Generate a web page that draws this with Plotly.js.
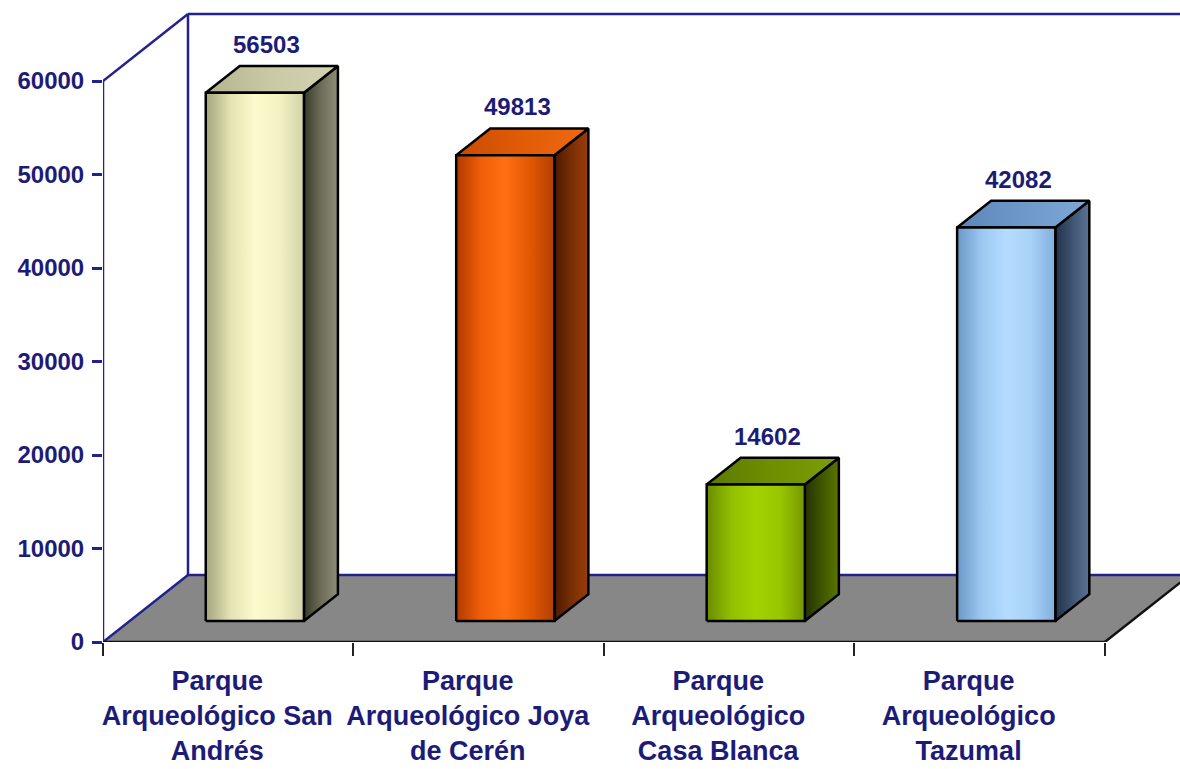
<!DOCTYPE html>
<html>
<head>
<meta charset="utf-8">
<script src="https://cdn.plot.ly/plotly-3.0.1.min.js"></script>
<style>html,body{margin:0;padding:0;background:#fff;overflow:hidden}</style>
</head>
<body>
<div id="chart" style="width:1180px;height:769px"></div>
<script>
// ---- data ----
const categories = [
  'Parque Arqueológico San Andrés',
  'Parque Arqueológico Joya de Cerén',
  'Parque Arqueológico Casa Blanca',
  'Parque Arqueológico Tazumal'
];
const tickLabels = [
  'Parque<br>Arqueológico San<br>Andrés',
  'Parque<br>Arqueológico Joya<br>de Cerén',
  'Parque<br>Arqueológico<br>Casa Blanca',
  'Parque<br>Arqueológico<br>Tazumal'
];
const visitors = [56503, 49813, 14602, 42082];
const yTicks = [0, 10000, 20000, 30000, 40000, 50000, 60000];
const yTickLabels = ['0', '10000', '20000', '30000', '40000', '50000', '60000'];

// ---- style ----
const faceStyles = [
  {front: ['#a4a47e', '#e2e2b2', '#fbfbcd', '#f2f2c4', '#d2d2a6'], side: ['#3a3a2c', '#6c6c58', '#8e8e78'], top: ['#b4b490', '#c9c9a6', '#d3d3b2']},
  {front: ['#b03a00', '#f05e08', '#ff6f12', '#e25804', '#b04000'], side: ['#4a1a00', '#7a2e04', '#9a3e08'], top: ['#c84a02', '#e25c08', '#ee6a10']},
  {front: ['#6a8a00', '#92c000', '#a2d200', '#98c600', '#769800'], side: ['#243200', '#405600', '#5a7600'], top: ['#5c7800', '#6e9000', '#7c9e08']},
  {front: ['#6a98c8', '#9cc8f0', '#b4dcff', '#a8d2f8', '#82aedc'], side: ['#22324a', '#3e5472', '#5a7496'], top: ['#5c86b8', '#6e98c8', '#7ea8d6']}
];
const navy = '#22228c';
const textColor = '#1c1c78';
const fontFamily = 'Liberation Sans, Arial, sans-serif';

// ---- 3D geometry helpers (in axis units) ----
const DX = 85 / 250.5;      // depth offset along x (category units)
const DY = 7166;            // depth offset along y (value units)
const F1 = 0.313, F2 = 0.713; // bar front/back depth fractions
const HW = 0.196;           // half bar width
const X0 = -0.5, X1 = categories.length - 0.5;
const WALL_TOP = 60000;

function scale(stops) {
  return stops.map((c, k) => [k / (stops.length - 1), c]);
}

const traces = [];
visitors.forEach((v, i) => {
  const st = faceStyles[i];
  const xa = i - HW + F1 * DX, xb = i + HW + F1 * DX;
  const yb = F1 * DY, yt = v + F1 * DY;
  const bx = (F2 - F1) * DX, by = (F2 - F1) * DY;
  const common = {type: 'scatter', mode: 'lines', fill: 'toself', hoverinfo: 'skip', showlegend: false,
    line: {color: '#000', width: 2.5}};
  traces.push(Object.assign({}, common, {
    name: categories[i] + ' side',
    x: [xb, xb + bx, xb + bx, xb, xb], y: [yb, yb + by, yt + by, yt, yb],
    fillgradient: {type: 'horizontal', colorscale: scale(st.side)}
  }));
  traces.push(Object.assign({}, common, {
    name: categories[i] + ' top',
    x: [xa, xb, xb + bx, xa + bx, xa], y: [yt, yt, yt + by, yt + by, yt],
    fillgradient: {type: 'horizontal', colorscale: scale(st.top)}
  }));
  traces.push(Object.assign({}, common, {
    name: categories[i],
    x: [xa, xb, xb, xa, xa], y: [yb, yb, yt, yt, yb],
    fillgradient: {type: 'horizontal', colorscale: scale(st.front)},
    hoverinfo: 'text', text: categories[i] + ': ' + v, hoveron: 'fills'
  }));
});

const shapes = [
  // floor
  {type: 'path', layer: 'below', xref: 'x', yref: 'y',
   path: `M${X0},0 L${X1},0 L${X1 + DX},${DY} L${X0 + DX},${DY} Z`,
   fillcolor: '#878787', line: {width: 0}},
  // back wall lines
  {type: 'line', layer: 'below', xref: 'x', yref: 'y', x0: X0 + DX, y0: DY, x1: X1 + DX + 1, y1: DY, line: {color: navy, width: 2.5}},
  {type: 'line', layer: 'below', xref: 'x', yref: 'y', x0: X0 + DX, y0: DY, x1: X0 + DX, y1: WALL_TOP + DY, line: {color: navy, width: 2.5}},
  {type: 'line', layer: 'below', xref: 'x', yref: 'y', x0: X0 + DX, y0: WALL_TOP + DY, x1: X1 + DX + 1, y1: WALL_TOP + DY, line: {color: navy, width: 2.5}},
  // left side (value axis)
  {type: 'line', layer: 'below', xref: 'x', yref: 'y', x0: X0, y0: 0, x1: X0 + DX, y1: DY, line: {color: navy, width: 2.5}},
  {type: 'line', layer: 'below', xref: 'x', yref: 'y', x0: X0, y0: WALL_TOP, x1: X0 + DX, y1: WALL_TOP + DY, line: {color: navy, width: 2.5}},
  {type: 'line', layer: 'below', xref: 'x', yref: 'y', x0: X0, y0: 0, x1: X0, y1: WALL_TOP, line: {color: navy, width: 2.5}},
  // front and right floor edges
  {type: 'line', layer: 'below', xref: 'x', yref: 'y', x0: X0, y0: 0, x1: X1, y1: 0, line: {color: '#111', width: 2.5}},
  {type: 'line', layer: 'below', xref: 'x', yref: 'y', x0: X1, y0: 0, x1: X1 + DX, y1: DY, line: {color: '#111', width: 2.5}}
];

const annotations = visitors.map((v, i) => ({
  x: i + F1 * DX, y: v + F2 * DY, xref: 'x', yref: 'y',
  text: String(v), showarrow: false, yanchor: 'bottom', xanchor: 'center',
  xshift: 12, yshift: 6,
  font: {family: fontFamily, size: 24, color: textColor, weight: 'bold'}
}));

const boundaries = [];
for (let k = 0; k <= categories.length; k++) boundaries.push(k - 0.5);

const layout = {
  width: 1180, height: 769,
  margin: {l: 103, r: 0, t: 10, b: 127},
  paper_bgcolor: '#ffffff', plot_bgcolor: '#ffffff',
  showlegend: false,
  font: {family: fontFamily, color: textColor},
  xaxis: {
    type: 'linear', range: [-0.5, 3.8], fixedrange: true,
    tickmode: 'array', tickvals: categories.map((c, i) => i), ticktext: tickLabels,
    ticks: '', showgrid: false, zeroline: false, showline: false,
    ticklabelshift: -11, ticklabelstandoff: 20,
    tickfont: {family: fontFamily, size: 27, color: textColor, weight: 'bold'},
    minor: {tickmode: 'array', tickvals: boundaries, ticks: 'outside', ticklen: 13, tickwidth: 2, tickcolor: '#222', showgrid: false}
  },
  yaxis: {
    range: [0, 67594], fixedrange: true,
    tickmode: 'array', tickvals: yTicks, ticktext: yTickLabels,
    ticks: 'outside', ticklen: 10, tickwidth: 2.5, tickcolor: navy,
    showgrid: false, zeroline: false, showline: false,
    ticklabelstandoff: 3,
    tickfont: {family: fontFamily, size: 24, color: textColor, weight: 'bold'}
  },
  shapes: shapes,
  annotations: annotations
};

Plotly.newPlot('chart', traces, layout, {displayModeBar: false});
</script>
</body>
</html>
